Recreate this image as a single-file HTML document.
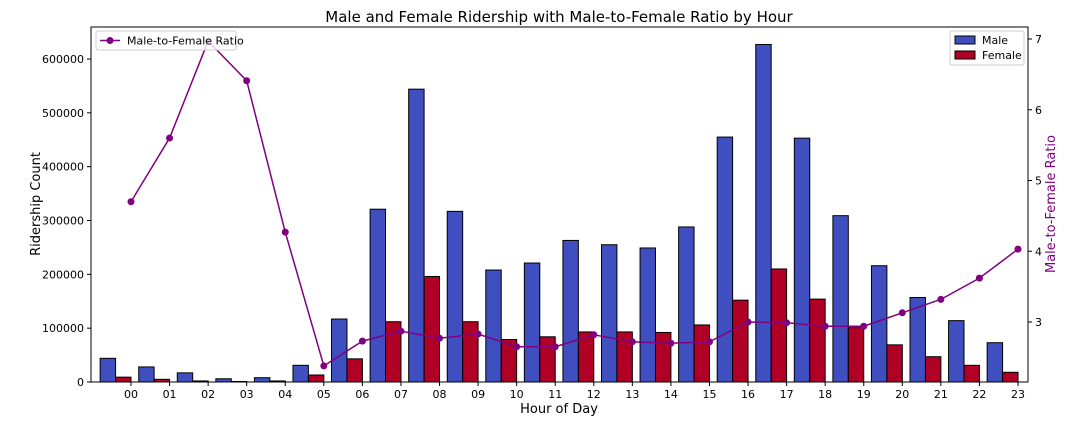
<!DOCTYPE html>
<html><head><meta charset="utf-8"><style>
html,body{margin:0;padding:0;background:#fff;}
svg{display:block;font-family:"DejaVu Sans","Liberation Sans",sans-serif;}
</style></head><body>
<svg id="chart" width="1080" height="426" viewBox="0 0 1080 426" xmlns="http://www.w3.org/2000/svg"></svg>
<script>
const hours = ["00","01","02","03","04","05","06","07","08","09","10","11","12","13","14","15","16","17","18","19","20","21","22","23"];
const maleCounts = [44000,28000,17000,6000,8000,31000,117000,321000,544000,317000,208000,221000,263000,255000,249000,288000,455000,627000,453000,309000,216000,157000,114000,73000];
const femaleCounts = [9000,5000,2000,1000,2000,13000,43000,112000,196000,112000,79000,84000,93000,93000,92000,106000,152000,210000,154000,101000,69000,47000,31000,18000];
const ratios = [4.70,5.60,6.97,6.41,4.27,2.38,2.73,2.87,2.77,2.83,2.65,2.65,2.82,2.72,2.70,2.72,3.00,2.99,2.94,2.94,3.13,3.32,3.62,4.03];
const leftTicks = [0,100000,200000,300000,400000,500000,600000];
const rightTicks = [3,4,5,6,7];

const NS="http://www.w3.org/2000/svg";
const svg=document.getElementById('chart');
const L=91,R=1028,T=27,B=382;
const xs=i=>131+(i)*(887/23);
const yL=v=>B-v/100000*53.83;
const yR=v=>322-(v-3)*70.75;
function mk(tag,attrs,parent){const e=document.createElementNS(NS,tag);for(const k in attrs)e.setAttribute(k,attrs[k]);(parent||svg).appendChild(e);return e;}
function txt(s,attrs,parent){const e=mk('text',attrs,parent);e.textContent=s;return e;}

const bw=887/23*0.4;
const bars=mk('g',{});


hours.forEach((h,i)=>{
  const m=mk('rect',{x:xs(i)-2*bw,y:yL(maleCounts[i]),width:bw,height:B-yL(maleCounts[i]),fill:'#3f4fc0',stroke:'#000','stroke-width':1},bars);
  
  
  const f=mk('rect',{x:xs(i)-bw,y:yL(femaleCounts[i]),width:bw,height:B-yL(femaleCounts[i]),fill:'#b10026',stroke:'#000','stroke-width':1},bars);
  
  
});

const line=mk('polyline',{points:ratios.map((r,i)=>xs(i)+','+yR(r)).join(' '),fill:'none',stroke:'#800080','stroke-width':1.5});


ratios.forEach((r,i)=>{
  const c=mk('circle',{cx:xs(i),cy:yR(r),r:3.5,fill:'#800080'});
  
  
});

mk('rect',{x:L,y:T,width:R-L,height:B-T,fill:'none',stroke:'#000','stroke-width':1});

hours.forEach((h,i)=>{
  mk('line',{x1:xs(i),y1:B,x2:xs(i),y2:B+4,stroke:'#000'});
  const t=txt(h,{x:xs(i),y:B+16,'font-size':11,'text-anchor':'middle'});
  
  
});
leftTicks.forEach(v=>{
  mk('line',{x1:L-4,y1:yL(v),x2:L,y2:yL(v),stroke:'#000'});
  const t=txt(String(v),{x:L-7,y:yL(v)+4,'font-size':11,'text-anchor':'end'});
  
  
});
rightTicks.forEach(v=>{
  mk('line',{x1:R,y1:yR(v),x2:R+4,y2:yR(v),stroke:'#000'});
  const t=txt(String(v),{x:R+7,y:yR(v)+4,'font-size':11});
  
  
});
</script>
<svg style="position:absolute;left:0;top:0" width="1080" height="426" xmlns="http://www.w3.org/2000/svg">
<text x="559" y="22" font-size="15" text-anchor="middle" font-family="DejaVu Sans, Liberation Sans, sans-serif">Male and Female Ridership with Male-to-Female Ratio by Hour</text>
<text x="559" y="413" font-size="13" text-anchor="middle" font-family="DejaVu Sans, Liberation Sans, sans-serif">Hour of Day</text>
<text x="40" y="204" font-size="13" text-anchor="middle" transform="rotate(-90 40 204)" font-family="DejaVu Sans, Liberation Sans, sans-serif">Ridership Count</text>
<text x="1055" y="204" font-size="13" fill="#800080" text-anchor="middle" transform="rotate(-90 1055 204)" font-family="DejaVu Sans, Liberation Sans, sans-serif">Male-to-Female Ratio</text>
<g>
<rect x="96" y="31" width="140" height="19" rx="2" fill="#fff" fill-opacity="0.8" stroke="#ccc"/>
<line x1="100" y1="40.5" x2="120" y2="40.5" stroke="#800080" stroke-width="1.5"/>
<circle cx="110" cy="40.5" r="3.5" fill="#800080"/>
<text x="127" y="44.5" font-size="11" font-family="DejaVu Sans, Liberation Sans, sans-serif">Male-to-Female Ratio</text>
</g>
<g>
<rect x="950" y="31" width="74" height="34" rx="2" fill="#fff" fill-opacity="0.8" stroke="#ccc"/>
<rect x="955" y="36" width="20" height="8" fill="#3f4fc0" stroke="#000"/>
<text x="982" y="44" font-size="11" font-family="DejaVu Sans, Liberation Sans, sans-serif">Male</text>
<rect x="955" y="51" width="20" height="8" fill="#b10026" stroke="#000"/>
<text x="982" y="59" font-size="11" font-family="DejaVu Sans, Liberation Sans, sans-serif">Female</text>
</g>
</svg>
</body></html>
